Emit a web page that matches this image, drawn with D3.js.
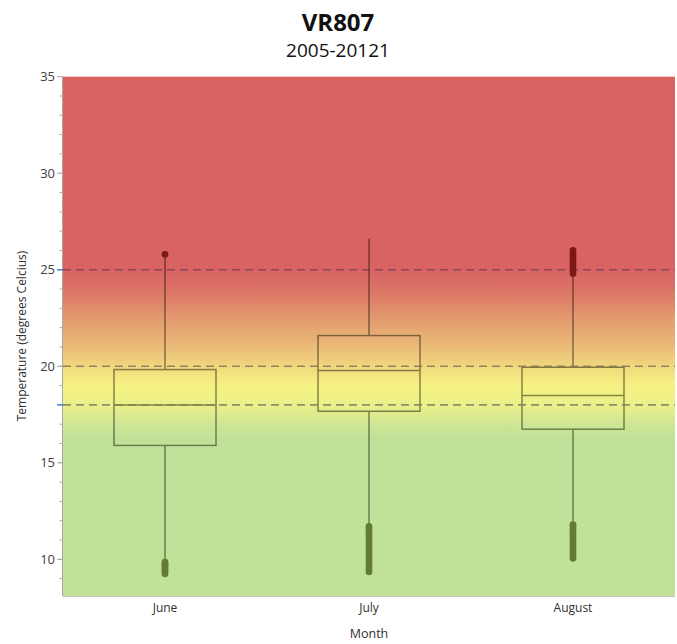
<!DOCTYPE html>
<html><head><meta charset="utf-8">
<script src="https://cdn.jsdelivr.net/npm/d3@7"></script>
<style>
body{margin:0;background:#fff;}
text{font-family:"Open Sans","Noto Sans",sans-serif;}
</style></head>
<body><svg id="chart" width="677" height="644"></svg>
<script>
// ---- data ----
const months = ["June", "July", "August"];
const q1 = [15.9, 17.67, 16.74];
const median = [18.0, 19.78, 18.48];
const q3 = [19.83, 21.59, 19.95];
const whiskerLow = [9.95, 11.8, 11.9];
const whiskerHigh = [25.7, 26.6, 24.75];
const outliersJune = [9.25, 9.35, 9.45, 9.55, 9.65, 9.75, 9.85, 25.8];
const outliersJuly = [9.35, 9.5, 9.65, 9.8, 9.95, 10.1, 10.25, 10.4, 10.55, 10.7, 10.85, 11.0, 11.15, 11.3, 11.45, 11.6, 11.7];
const outliersAugust = [10.05, 10.2, 10.35, 10.5, 10.65, 10.8, 10.95, 11.1, 11.25, 11.4, 11.55, 11.7, 11.8,
                        24.8, 24.95, 25.1, 25.25, 25.4, 25.55, 25.7, 25.85, 26.0];
const outliers = [outliersJune, outliersJuly, outliersAugust];
const thresholds = [25, 20, 18];
const majorTicks = [10, 15, 20, 25, 30, 35];
const minorTicks = d3.range(9, 35);
const highlightTicks = [18, 25];
const title = "VR807";
const subtitle = "2005-20121";
const yLabel = "Temperature (degrees Celcius)";
const xLabel = "Month";
// background colour stops (value, colour)
const bgStopValues = [35, 25, 24, 22.5, 21, 19.5, 19, 18, 17, 16.3, 8.1];
const bgStopColors = ["#d96363", "#d96363", "#db7265", "#e39a6e", "#eabb78", "#f3e680", "#f6f282", "#eaf08a", "#cfe694", "#c0e298", "#c0e298"];

// ---- layout ----
const svg = d3.select("#chart");
const L = 63, R = 675, T = 76.7, B = 596;
const y = d3.scaleLinear().domain([8.1, 35]).range([B, T]);
const x = d3.scaleBand().domain(months).range([L, R]).padding(0);
const bw = x.bandwidth() * 0.5;

const defs = svg.append("defs");
function makeGrad(id, colorFn) {
  const g = defs.append("linearGradient").attr("id", id)
    .attr("gradientUnits", "userSpaceOnUse")
    .attr("x1", 0).attr("x2", 0).attr("y1", T).attr("y2", B);
  bgStopValues.forEach((v, i) => {
    g.append("stop").attr("offset", (y(v) - T) / (B - T)).attr("stop-color", colorFn(bgStopColors[i]));
  });
}
makeGrad("bg", c => c);
makeGrad("lineG", c => { const r = d3.rgb(c); return d3.rgb(r.r * 0.55, r.g * 0.55, r.b * 0.5).formatHex(); });
makeGrad("ptG", c => { const r = d3.rgb(c); return d3.rgb(r.r * r.r / 255 * 0.68, r.g * r.g / 255 * 0.62, r.b * r.b / 255 * 0.55).formatHex(); });

svg.append("rect").attr("x", L).attr("y", T).attr("width", R - L).attr("height", B - T).attr("fill", "url(#bg)");

// threshold dashed lines
svg.selectAll(".thr").data(thresholds).join("line")
  .attr("x1", L).attr("x2", R).attr("y1", d => y(d)).attr("y2", d => y(d))
  .attr("stroke", "rgba(60,40,80,0.5)").attr("stroke-width", 1.6).attr("stroke-dasharray", "8,5");

// boxes
const g = svg.append("g");
months.forEach((m, i) => {
  const cx = x(m) + x.bandwidth() / 2;
  const st = "url(#lineG)";
  g.append("line").attr("x1", cx).attr("x2", cx).attr("y1", y(q3[i])).attr("y2", y(whiskerHigh[i])).attr("stroke", st).attr("stroke-width", 1.5);
  g.append("line").attr("x1", cx).attr("x2", cx).attr("y1", y(q1[i])).attr("y2", y(whiskerLow[i])).attr("stroke", st).attr("stroke-width", 1.5);
  g.append("rect").attr("x", cx - bw / 2).attr("width", bw).attr("y", y(q3[i])).attr("height", y(q1[i]) - y(q3[i]))
    .attr("fill", "none").attr("stroke", st).attr("stroke-width", 1.5);
  g.append("line").attr("x1", cx - bw / 2).attr("x2", cx + bw / 2).attr("y1", y(median[i])).attr("y2", y(median[i]))
    .attr("stroke", st).attr("stroke-width", 1.5);
  g.selectAll(null).data(outliers[i]).join("circle")
    .attr("cx", cx).attr("cy", d => y(d)).attr("r", 3.4).attr("fill", "url(#ptG)");
});

// y axis
svg.append("line").attr("x1", L - 0.5).attr("x2", L - 0.5).attr("y1", T).attr("y2", B).attr("stroke", "#a8a8a8");
svg.selectAll(".minor").data(minorTicks).join("line")
  .attr("x1", L - 3.5).attr("x2", L).attr("y1", d => y(d)).attr("y2", d => y(d)).attr("stroke", "#a8a8a8");
svg.selectAll(".major").data(majorTicks).join("line")
  .attr("x1", L - 6).attr("x2", L).attr("y1", d => y(d)).attr("y2", d => y(d)).attr("stroke", "#a8a8a8");
svg.selectAll(".hl").data(highlightTicks).join("line")
  .attr("x1", L - 6).attr("x2", L).attr("y1", d => y(d)).attr("y2", d => y(d)).attr("stroke", "#4a86d4").attr("stroke-width", 1.5);
svg.selectAll(".ylab").data(majorTicks).join("text")
  .attr("x", L - 8).attr("y", d => y(d)).attr("dy", "0.35em").attr("text-anchor", "end")
  .attr("font-size", 13).attr("fill", "#404040").text(d => d);

// x axis
svg.append("line").attr("x1", L).attr("x2", R).attr("y1", B + 0.5).attr("y2", B + 0.5).attr("stroke", "#c0c0c0");
svg.selectAll(".xlab").data(months).join("text")
  .attr("x", d => x(d) + x.bandwidth() / 2).attr("y", 608).attr("dy", "0.35em").attr("text-anchor", "middle")
  .attr("font-size", 12).attr("fill", "#303030").text(d => d);

svg.append("text").attr("x", 369).attr("y", 634).attr("dy", "0.35em").attr("text-anchor", "middle")
  .attr("font-size", 12.5).attr("fill", "#303030").text(xLabel);
svg.append("text").attr("transform", "translate(22,336) rotate(-90)").attr("dy", "0.35em").attr("text-anchor", "middle")
  .attr("font-size", 12).attr("fill", "#303030").text(yLabel);

svg.append("text").attr("x", 338).attr("y", 31).attr("text-anchor", "middle")
  .attr("font-family", "Lato, 'Open Sans', sans-serif").attr("font-weight", "bold").attr("font-size", 24).attr("fill", "#111").text(title);
svg.append("text").attr("x", 338).attr("y", 57).attr("text-anchor", "middle")
  .attr("font-family", "Lato, 'Open Sans', sans-serif").attr("font-size", 19).attr("fill", "#111").text(subtitle);
</script></body></html>
